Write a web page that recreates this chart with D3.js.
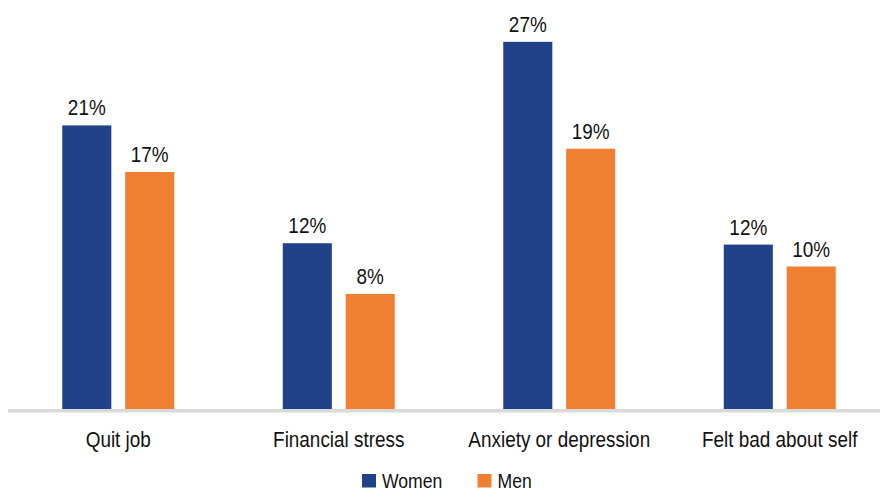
<!DOCTYPE html>
<html>
<head>
<meta charset="utf-8">
<script src="https://cdn.jsdelivr.net/npm/d3@7"></script>
<style>
  html, body { margin: 0; padding: 0; background: #fff; }
  svg { display: block; }
  text { font-family: "Liberation Sans", Arial, sans-serif; fill: #111; }
</style>
</head>
<body>
<svg id="chart" width="880" height="493"></svg>
<script>
const categories = ["Quit job", "Financial stress", "Anxiety or depression", "Felt bad about self"];
const series = ["Women", "Men"];
const women = [20.7, 12.1, 26.8, 12.0];
const men = [17.3, 8.4, 19.0, 10.4];
const colors = ["#1f4288", "#ef7f31"];

const svg = d3.select("#chart");
const baseY = 409;
const SX = 0.86; // condensed look

const x = d3.scaleBand().domain(categories).range([8, 890]).padding(0);
const groupW = 112;
const xs = d3.scaleBand().domain(series).range([0, groupW]).paddingInner(0.22);
const y = d3.scaleLinear().domain([0, 30]).range([baseY, baseY - 30 * 13.7]);

const data = categories.map((c, i) => ({ cat: c, vals: [women[i], men[i]] }));

const g = svg.selectAll("g.grp").data(data).join("g")
  .attr("class", "grp")
  .attr("transform", d => `translate(${x(d.cat) + (x.bandwidth() - groupW) / 2},0)`);

const pts = d => d.vals.map((v, j) => ({ s: series[j], v, j }));

g.selectAll("rect").data(pts).join("rect")
  .attr("x", d => xs(d.s))
  .attr("width", xs.bandwidth())
  .attr("y", d => y(d.v))
  .attr("height", d => y(0) - y(d.v))
  .attr("fill", d => colors[d.j]);

g.selectAll("text.val").data(pts).join("text")
  .attr("class", "val")
  .attr("transform", d => `translate(${xs(d.s) + xs.bandwidth() / 2},${y(d.v) - 10}) scale(${SX},1)`)
  .attr("text-anchor", "middle")
  .attr("font-size", 22)
  .text(d => Math.round(d.v) + "%");

// baseline axis
svg.append("line")
  .attr("x1", 8).attr("x2", 880)
  .attr("y1", baseY + 1.8).attr("y2", baseY + 1.8)
  .attr("stroke", "#d9d9d9").attr("stroke-width", 3.5);

// category labels
const xAxis = d3.axisBottom(x).tickSize(0).tickPadding(0);
const ax = svg.append("g").attr("transform", `translate(0,${baseY})`).call(xAxis);
ax.select(".domain").remove();
ax.selectAll(".tick text")
  .attr("font-size", 22)
  .attr("dy", null)
  .attr("y", null)
  .attr("transform", `translate(0,38) scale(${SX},1)`)
  .attr("fill", "#111")
  .style("font-family", "\"Liberation Sans\", Arial, sans-serif");

// legend
const legendX = [362, 477.5];
const lg = svg.selectAll("g.leg").data(series).join("g")
  .attr("class", "leg")
  .attr("transform", (d, i) => `translate(${legendX[i]},474)`);
lg.append("rect").attr("width", 14).attr("height", 13.5).attr("fill", (d, i) => colors[i]);
lg.append("text")
  .attr("transform", `translate(20,14) scale(${SX},1)`)
  .attr("font-size", 20.5).text(d => d);
</script>
</body>
</html>
